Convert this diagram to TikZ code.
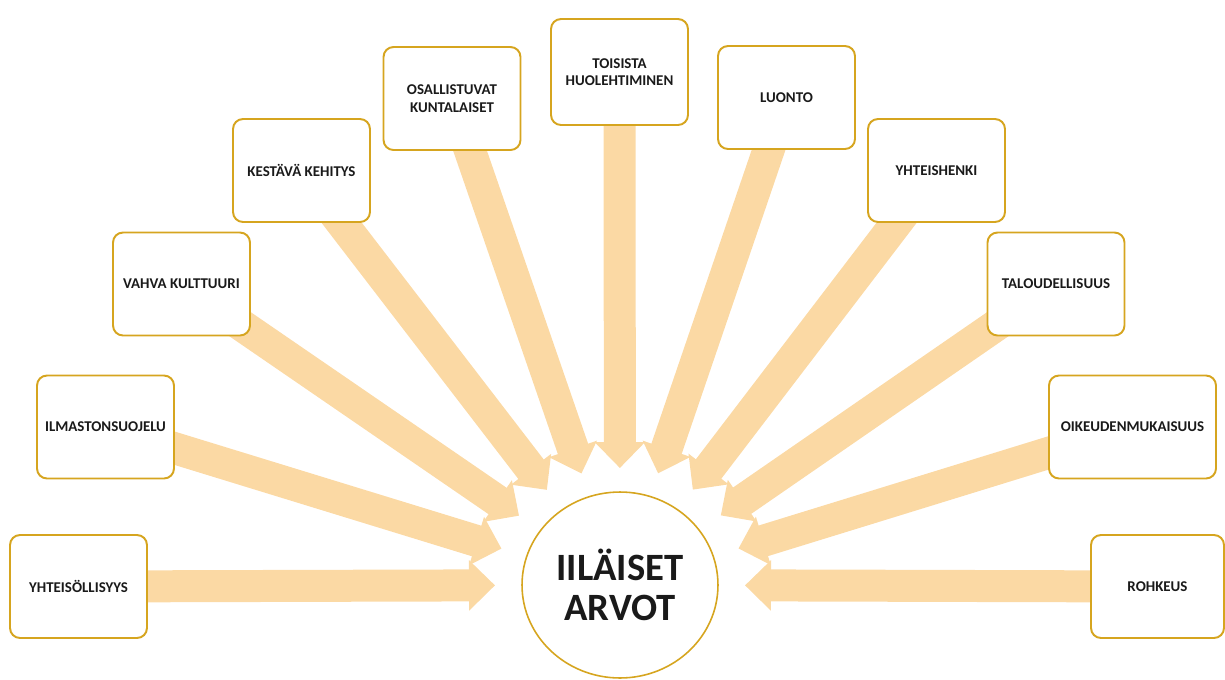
\documentclass[tikz,border=0pt]{standalone}
\usepackage{fontspec}
\setmainfont{Carlito}
\usepackage{tikz}
\usetikzlibrary{arrows.meta, calc, shapes.geometric, backgrounds}
\definecolor{gold}{HTML}{D6A51F}
\definecolor{peach}{HTML}{FBD9A4}
\definecolor{textblack}{HTML}{1A1A1A}

\begin{document}
\begin{tikzpicture}[
    x=0.02cm, y=-0.02cm,
    every node/.style={font=\bfseries\fontsize{8.5}{10}\selectfont, text=textblack},
    valuebox/.style={rectangle, rounded corners=0.2cm, draw=gold, line width=1.1pt, fill=white, minimum width=2.74cm, minimum height=2.06cm, align=center, inner sep=2pt},
    hubnode/.style={ellipse, draw=gold, line width=0.9pt, fill=white, minimum width=3.92cm, minimum height=3.72cm, inner sep=0pt, align=center, font=\bfseries\fontsize{22}{23}\selectfont},
    valuearrow/.style={draw=peach, line width=0.64cm, -{Triangle[length=0.52cm, width=0.98cm]}},
]
\useasboundingbox (0,0) rectangle (1225,680);
% hub and the values round it, left to right
\node[hubnode] (hub) at (620,585) {IILÄISET\\ARVOT};
\node[valuebox] (yht) at (78.5,586.5) {YHTEISÖLLISYYS};
\node[valuebox] (ilm) at (105.5,427) {ILMASTONSUOJELU};
\node[valuebox] (vah) at (181.5,284) {VAHVA KULTTUURI};
\node[valuebox] (kes) at (301.5,170.5) {KESTÄVÄ KEHITYS};
\node[valuebox] (osa) at (452,98.5) {OSALLISTUVAT\\KUNTALAISET};
\node[valuebox, minimum height=2.12cm] (toi) at (619.5,72) {TOISISTA\\HUOLEHTIMINEN};
\node[valuebox] (luo) at (786.5,97.5) {LUONTO};
\node[valuebox] (hen) at (936.5,170.5) {YHTEISHENKI};
\node[valuebox] (tal) at (1056,284) {TALOUDELLISUUS};
\node[valuebox, minimum width=3.34cm] (oik) at (1132.5,427) {OIKEUDENMUKAISUUS};
\node[valuebox, minimum width=2.66cm] (roh) at (1157.5,586.5) {ROHKEUS};
\begin{scope}[on background layer]
\foreach \b/\r in {yht/2.5, ilm/2.48, vah/2.45, kes/2.4, osa/2.36, toi/2.34, luo/2.36, hen/2.4, tal/2.45, oik/2.48, roh/2.5}
    \draw[valuearrow] (\b.center) -- ($(hub.center)!\r cm!(\b.center)$);
\end{scope}
\end{tikzpicture}
\end{document}
